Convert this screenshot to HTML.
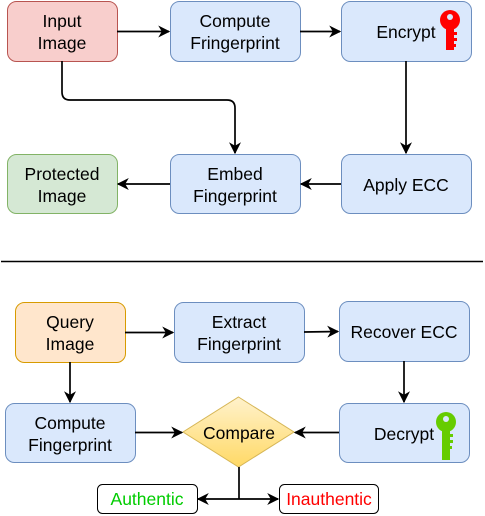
<!DOCTYPE html>
<html><head><style>
html,body{margin:0;padding:0;background:#fff;}
svg{display:block;}
text{font-family:"Liberation Sans",Helvetica,Arial,sans-serif;font-size:17.5px;fill:#000;}
</style></head><body>
<svg width="485" height="516" viewBox="0 0 485 516" xmlns="http://www.w3.org/2000/svg">
<defs>
<marker id="a" viewBox="0 0 10 10" refX="9" refY="5" markerWidth="12" markerHeight="12" markerUnits="userSpaceOnUse" orient="auto">
<path d="M0,0 L10,5 L0,10 L3,5 Z" fill="#000"/></marker>
<linearGradient id="g" x1="0" y1="0" x2="0" y2="1"><stop offset="0" stop-color="#fff2cc"/><stop offset="1" stop-color="#ffd966"/></linearGradient>
</defs>
<g stroke-width="1">
<rect x="7.5" y="1.5" width="110" height="60" rx="9" fill="#f8cecc" stroke="#b85450"/>
<rect x="170.5" y="1.5" width="130" height="60" rx="9" fill="#dae8fc" stroke="#6c8ebf"/>
<rect x="341.5" y="1.5" width="130" height="60" rx="9" fill="#dae8fc" stroke="#6c8ebf"/>
<rect x="7.5" y="154.5" width="110" height="59" rx="9" fill="#d5e8d4" stroke="#82b366"/>
<rect x="170.5" y="154.5" width="130" height="59" rx="9" fill="#dae8fc" stroke="#6c8ebf"/>
<rect x="341.5" y="154.5" width="130" height="59" rx="9" fill="#dae8fc" stroke="#6c8ebf"/>
<rect x="15.5" y="302.5" width="110" height="60" rx="9" fill="#ffe6cc" stroke="#d79b00"/>
<rect x="174.5" y="302.5" width="130" height="60" rx="9" fill="#dae8fc" stroke="#6c8ebf"/>
<rect x="339.5" y="301.5" width="130" height="60" rx="9" fill="#dae8fc" stroke="#6c8ebf"/>
<rect x="5.5" y="403.5" width="130" height="59" rx="9" fill="#dae8fc" stroke="#6c8ebf"/>
<rect x="339.5" y="403.5" width="130" height="59" rx="9" fill="#dae8fc" stroke="#6c8ebf"/>
<polygon points="238.5,397 294,432 238.5,467 183,432" fill="url(#g)" stroke="#d6b656"/>
<rect x="97.5" y="484.5" width="100" height="29" rx="5" fill="#fff" stroke="#000"/>
<rect x="279.5" y="484.5" width="99" height="29" rx="5" fill="#fff" stroke="#000"/>
</g>
<g stroke="#000" stroke-width="1.7" fill="none" marker-end="url(#a)">
<line x1="117" y1="31.5" x2="169" y2="31.5"/>
<line x1="300" y1="31.5" x2="340" y2="31.5"/>
<line x1="406" y1="61" x2="406" y2="153"/>
<line x1="341" y1="184" x2="301" y2="184"/>
<line x1="170" y1="184" x2="118" y2="184"/>
<path d="M62,61 V92 Q62,100 70,100 H227 Q235,100 235,108 V153"/>
<line x1="125" y1="332.5" x2="173" y2="332.5"/>
<line x1="304" y1="332" x2="338" y2="331.5"/>
<line x1="70" y1="362" x2="70" y2="402"/>
<line x1="404" y1="361" x2="404" y2="402"/>
<line x1="135" y1="432.5" x2="182" y2="432.5"/>
<line x1="339" y1="432.5" x2="295" y2="432.5"/>
<line x1="239" y1="499" x2="198" y2="499"/>
<line x1="239" y1="499" x2="278" y2="499"/>
</g>
<line x1="239" y1="467" x2="239" y2="499" stroke="#000" stroke-width="1.7"/>
<line x1="1" y1="261.5" x2="483" y2="261.5" stroke="#000" stroke-width="1.5"/>
<g fill="#ff0000">
<circle cx="450" cy="20" r="10"/>
<path d="M446,27 h8 v5 h3 v3 h-3 v3 h3 v3 h-3 v3 h2 v3 h-2 v3 h-8 z"/>
</g>
<circle cx="450" cy="17" r="3" fill="#dae8fc"/>
<g fill="#66cc00">
<circle cx="446" cy="422" r="10"/>
<path d="M442,429 h8 v5 h3 v3 h-3 v3 h3 v3 h-3 v3 h2 v3 h-2 v11 h-8 z"/>
</g>
<circle cx="446" cy="419" r="3" fill="#dae8fc"/>
<g text-anchor="middle">
<text x="62" y="27">Input</text><text x="62" y="49">Image</text>
<text x="235" y="27">Compute</text><text x="235" y="49">Fringerprint</text>
<text x="406" y="38">Encrypt</text>
<text x="62" y="180">Protected</text><text x="62" y="202">Image</text>
<text x="235" y="180">Embed</text><text x="235" y="202">Fingerprint</text>
<text x="406" y="191">Apply ECC</text>
<text x="70" y="328">Query</text><text x="70" y="350">Image</text>
<text x="239" y="328">Extract</text><text x="239" y="350">Fingerprint</text>
<text x="404" y="338">Recover ECC</text>
<text x="70" y="429">Compute</text><text x="70" y="451">Fingerprint</text>
<text x="404" y="440">Decrypt</text>
<text x="239" y="439">Compare</text>
<text x="147" y="505" style="fill:#00cc00">Authentic</text>
<text x="329" y="505" style="fill:#ff0000">Inauthentic</text>
</g>
</svg>
</body></html>
